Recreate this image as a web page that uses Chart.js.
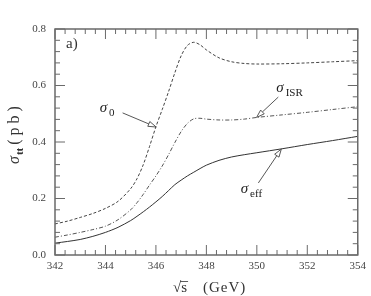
<!DOCTYPE html>
<html><head><meta charset="utf-8">
<script src="https://cdn.jsdelivr.net/npm/chart.js@4/dist/chart.umd.min.js"></script>
<style>html,body{margin:0;padding:0;background:#fff;}#wrap{width:371px;height:296px;}</style>
</head><body><div id="wrap"><canvas id="c" width="371" height="296"></canvas></div>
<script>
// energies (GeV)
const sqrtS = [342, 342.5, 343, 343.5, 344, 344.5, 345, 345.25, 345.5, 345.75, 346, 346.25, 346.5, 346.75, 347, 347.25, 347.5, 347.75, 348, 348.5, 349, 349.5, 350, 351, 352, 353, 354];
// sigma_0 (pb)
const sigma0 = [0.110, 0.120, 0.133, 0.147, 0.165, 0.190, 0.235, 0.270, 0.320, 0.385, 0.454, 0.515, 0.578, 0.645, 0.705, 0.742, 0.753, 0.744, 0.726, 0.698, 0.684, 0.678, 0.676, 0.677, 0.680, 0.684, 0.688];
// sigma_ISR (pb)
const sigmaISR = [0.063, 0.071, 0.080, 0.090, 0.102, 0.125, 0.160, 0.185, 0.215, 0.248, 0.280, 0.315, 0.355, 0.398, 0.437, 0.466, 0.482, 0.484, 0.481, 0.478, 0.478, 0.481, 0.487, 0.496, 0.505, 0.515, 0.525];
// sigma_eff (pb)
const sigmaEff = [0.042, 0.048, 0.055, 0.066, 0.080, 0.098, 0.122, 0.137, 0.153, 0.170, 0.188, 0.207, 0.228, 0.249, 0.265, 0.280, 0.293, 0.306, 0.318, 0.335, 0.347, 0.355, 0.362, 0.376, 0.391, 0.405, 0.420];
// tick labels
const xTickLabels = [342, 344, 346, 348, 350, 352, 354];
const yTickLabels = [0.0, 0.2, 0.4, 0.6, 0.8];

const pts = arr => sqrtS.map((x, i) => ({x: x, y: arr[i]}));
const FONT = '"Liberation Serif","DejaVu Serif",serif';
const AX = '#6a6a6a';

// curve labels in data units: text anchor, arrow from, arrow to
const notes = [
  {main: 'σ', sub: '0', tx: 343.77, ty: 0.506, ax: 344.68, ay: 0.503, bx: 346.01, by: 0.453},
  {main: 'σ', sub: 'ISR', tx: 350.77, ty: 0.577, ax: 350.85, ay: 0.559, bx: 349.99, by: 0.487},
  {main: 'σ', sub: 'eff', tx: 349.36, ty: 0.219, ax: 350.06, ay: 0.255, bx: 350.97, by: 0.375}
];

function arrow(ctx, x1, y1, x2, y2) {
  ctx.beginPath(); ctx.moveTo(x1, y1);
  const ang = Math.atan2(y2 - y1, x2 - x1);
  const L = 8, W = 2.6;
  const bx = x2 - L * Math.cos(ang), by = y2 - L * Math.sin(ang);
  ctx.lineTo(bx, by); ctx.stroke();
  ctx.beginPath();
  ctx.moveTo(x2, y2);
  ctx.lineTo(bx + W * Math.sin(ang), by - W * Math.cos(ang));
  ctx.lineTo(bx - W * Math.sin(ang), by + W * Math.cos(ang));
  ctx.closePath(); ctx.fillStyle = '#fff'; ctx.fill(); ctx.stroke();
}

const deco = {
  id: 'deco',
  afterDraw(chart) {
    const ctx = chart.ctx, xs = chart.scales.x, ys = chart.scales.y, a = chart.chartArea;
    ctx.save();
    // frame
    ctx.strokeStyle = AX; ctx.lineWidth = 1.5;
    ctx.strokeRect(a.left, a.top, a.right - a.left, a.bottom - a.top);
    // inward ticks
    ctx.lineWidth = 1;
    ctx.beginPath();
    for (let k = 0; k <= 30; k++) {
      const v = 342 + k * 0.4, px = xs.getPixelForValue(v);
      const L = (k % 5 === 0) ? 10 : 5;
      ctx.moveTo(px, a.bottom); ctx.lineTo(px, a.bottom - L);
      ctx.moveTo(px, a.top); ctx.lineTo(px, a.top + L);
    }
    for (let k = 0; k <= 20; k++) {
      const v = k * 0.04, py = ys.getPixelForValue(v);
      const L = (k % 5 === 0) ? 10 : 5;
      ctx.moveTo(a.left, py); ctx.lineTo(a.left + L, py);
      ctx.moveTo(a.right, py); ctx.lineTo(a.right - L, py);
    }
    ctx.stroke();
    // panel label
    ctx.fillStyle = '#333';
    ctx.font = '15px ' + FONT; ctx.textBaseline = 'alphabetic'; ctx.textAlign = 'left';
    ctx.fillText('a)', a.left + 11, a.top + 19);
    // curve labels
    notes.forEach(n => {
      const tx = xs.getPixelForValue(n.tx), ty = ys.getPixelForValue(n.ty);
      ctx.fillStyle = '#222';
      ctx.font = 'italic 15px ' + FONT;
      ctx.fillText(n.main, tx, ty);
      const w = ctx.measureText(n.main).width;
      ctx.font = '11px ' + FONT;
      ctx.fillText(n.sub, tx + w + 2, ty + 4);
      ctx.strokeStyle = '#444'; ctx.lineWidth = 0.9;
      arrow(ctx, xs.getPixelForValue(n.ax), ys.getPixelForValue(n.ay), xs.getPixelForValue(n.bx), ys.getPixelForValue(n.by));
    });
    // y title
    ctx.save();
    ctx.translate(19, 164); ctx.rotate(-Math.PI / 2);
    ctx.fillStyle = '#333';
    ctx.font = 'italic 16px ' + FONT; ctx.textAlign = 'left';
    ctx.fillText('σ', 0, 0);
    let xx = ctx.measureText('σ').width + 1;
    ctx.font = 'bold 11px ' + FONT;
    ctx.fillText('tt', xx, 4);
    xx += ctx.measureText('tt').width + 3;
    ctx.font = '16px ' + FONT;
    ctx.letterSpacing = '4px';
    ctx.fillText('(pb)', xx, 0);
    ctx.letterSpacing = '0px';
    ctx.restore();
    // x title
    ctx.fillStyle = '#333';
    ctx.font = '15px ' + FONT; ctx.textAlign = 'left';
    ctx.fillText('√', 173, 292);
    const rw = ctx.measureText('√').width;
    ctx.fillText('s', 173 + rw, 292);
    const sw = ctx.measureText('s').width;
    ctx.strokeStyle = '#333'; ctx.lineWidth = 0.8;
    ctx.beginPath(); ctx.moveTo(173 + rw - 1, 281.5); ctx.lineTo(173 + rw + sw + 1, 281.5); ctx.stroke();
    ctx.letterSpacing = '1px';
    ctx.fillText('(GeV)', 203, 292);
    ctx.letterSpacing = '0px';
    ctx.restore();
  }
};

new Chart(document.getElementById('c'), {
  type: 'line',
  data: {
    datasets: [
      {label: 'σ0', data: pts(sigma0), borderColor: '#444', borderWidth: 1, borderDash: [3, 2], pointRadius: 0, tension: 0.3},
      {label: 'σISR', data: pts(sigmaISR), borderColor: '#555', borderWidth: 1, borderDash: [4, 2, 1, 2], pointRadius: 0, tension: 0.3},
      {label: 'σeff', data: pts(sigmaEff), borderColor: '#333', borderWidth: 1, pointRadius: 0, tension: 0.3}
    ]
  },
  options: {
    responsive: false, animation: false,
    layout: {padding: {top: 29, right: 11, left: 0, bottom: 0}},
    plugins: {legend: {display: false}, tooltip: {enabled: false}},
    scales: {
      x: {
        type: 'linear', min: 342, max: 354,
        afterBuildTicks: s => { s.ticks = xTickLabels.map(v => ({value: v})); },
        afterFit: s => { s.height = 41; },
        grid: {display: false, drawTicks: false},
        border: {display: false},
        ticks: {padding: 5, color: '#444', font: {family: FONT, size: 11}, maxRotation: 0, autoSkip: false, callback: v => String(v)}
      },
      y: {
        type: 'linear', min: 0, max: 0.8,
        afterBuildTicks: s => { s.ticks = yTickLabels.map(v => ({value: v})); },
        afterFit: s => { s.width = 55; },
        grid: {display: false, drawTicks: false},
        border: {display: false},
        ticks: {padding: 9, color: '#444', font: {family: FONT, size: 11}, autoSkip: false, callback: v => Number(v).toFixed(1)}
      }
    }
  },
  plugins: [deco]
});
</script></body></html>
